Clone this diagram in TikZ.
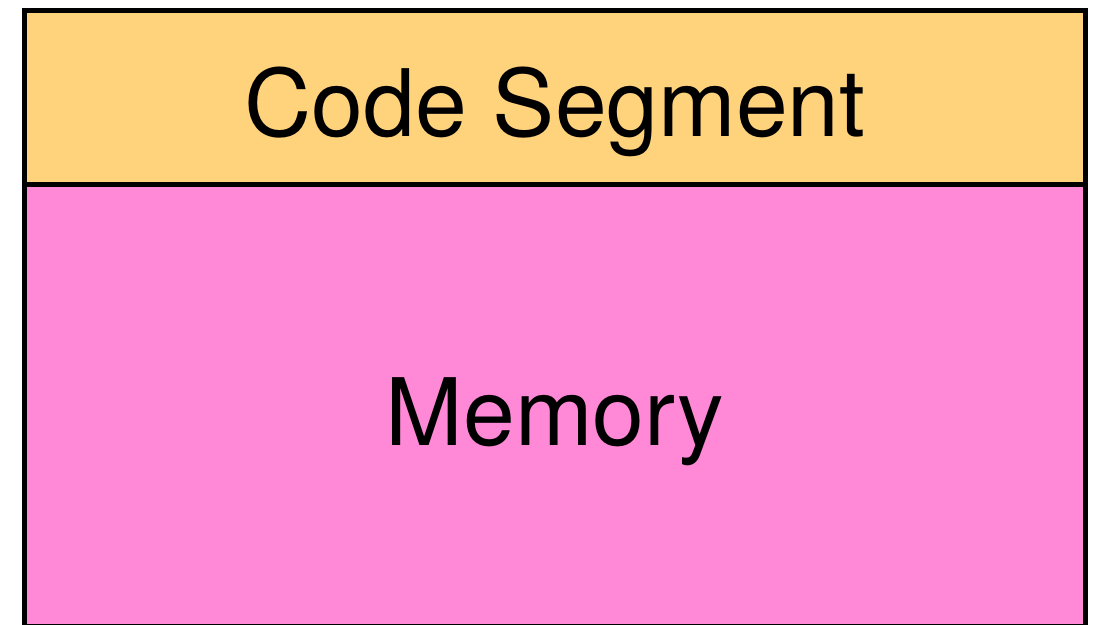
\documentclass[tikz,border=0pt]{standalone}
\usepackage{fontspec}
\setmainfont{TeX Gyre Heros}
\usepackage{tikz}
\definecolor{codeorange}{HTML}{FFD27C}
\definecolor{mempink}{HTML}{FF88D7}

\begin{document}
\begin{tikzpicture}[x=0.02cm, y=0.02cm]
\tikzstyle{segment}=[rectangle, draw=black, line width=0.1cm, inner sep=0pt, minimum width=21.22cm]
\tikzstyle{rotulo}=[anchor=base, inner sep=0pt, font=\fontsize{53}{60}\selectfont]
 \useasboundingbox (0,0) rectangle (1096,625);
 % faixas
 \node[segment, fill=mempink, minimum height=8.85cm] (memory) at (555,219.25) {};
 \node[segment, fill=codeorange, minimum height=3.48cm] (code) at (555,527.5) {};
 % textos
 \node[rotulo] (codetxt) at (555,488) {Code Segment};
 \node[rotulo] (memtxt) at (555,179) {Memory};
\end{tikzpicture}
\end{document}
